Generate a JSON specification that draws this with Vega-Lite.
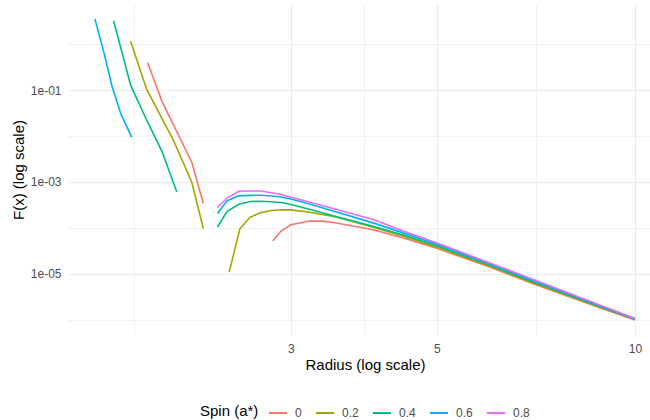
{
  "$schema": "https://vega.github.io/schema/vega-lite/v6.json",
  "width": 582,
  "height": 331,
  "autosize": {"type": "none"},
  "padding": {"left": 68, "top": 4, "right": 0, "bottom": 85},
  "background": "white",
  "config": {"view": {"stroke": null}, "font": "Liberation Sans"},
  "data": {"values": [
    {"spin": "0", "seg": "a", "r": 1.817, "F": 0.395},
    {"spin": "0", "seg": "a", "r": 1.912, "F": 0.0556},
    {"spin": "0", "seg": "a", "r": 2.12, "F": 0.00272},
    {"spin": "0", "seg": "a", "r": 2.208, "F": 0.000337},
    {"spin": "0", "seg": "b", "r": 2.815, "F": 5.15e-5},
    {"spin": "0", "seg": "b", "r": 2.9, "F": 8.59e-5},
    {"spin": "0", "seg": "b", "r": 3.0, "F": 1.16e-4},
    {"spin": "0", "seg": "b", "r": 3.2, "F": 1.41e-4},
    {"spin": "0", "seg": "b", "r": 3.35, "F": 1.40e-4},
    {"spin": "0", "seg": "b", "r": 3.5, "F": 1.29e-4},
    {"spin": "0", "seg": "b", "r": 4.0, "F": 9.04e-5},
    {"spin": "0", "seg": "b", "r": 4.5, "F": 5.69e-5},
    {"spin": "0", "seg": "b", "r": 5, "F": 3.57e-5},
    {"spin": "0", "seg": "b", "r": 6, "F": 1.41e-5},
    {"spin": "0", "seg": "b", "r": 7, "F": 6.00e-6},
    {"spin": "0", "seg": "b", "r": 8, "F": 3.04e-6},
    {"spin": "0", "seg": "b", "r": 9, "F": 1.66e-6},
    {"spin": "0", "seg": "b", "r": 10, "F": 9.82e-7},

    {"spin": "0.2", "seg": "a", "r": 1.712, "F": 1.156},
    {"spin": "0.2", "seg": "a", "r": 1.811, "F": 0.1035},
    {"spin": "0.2", "seg": "a", "r": 1.988, "F": 0.00811},
    {"spin": "0.2", "seg": "a", "r": 2.12, "F": 0.000998},
    {"spin": "0.2", "seg": "a", "r": 2.208, "F": 9.6e-5},
    {"spin": "0.2", "seg": "b", "r": 2.417, "F": 1.08e-5},
    {"spin": "0.2", "seg": "b", "r": 2.51, "F": 9.6e-5},
    {"spin": "0.2", "seg": "b", "r": 2.6, "F": 1.69e-4},
    {"spin": "0.2", "seg": "b", "r": 2.7, "F": 2.14e-4},
    {"spin": "0.2", "seg": "b", "r": 2.8, "F": 2.38e-4},
    {"spin": "0.2", "seg": "b", "r": 2.9, "F": 2.48e-4},
    {"spin": "0.2", "seg": "b", "r": 3.0, "F": 2.46e-4},
    {"spin": "0.2", "seg": "b", "r": 3.2, "F": 2.18e-4},
    {"spin": "0.2", "seg": "b", "r": 3.5, "F": 1.75e-4},
    {"spin": "0.2", "seg": "b", "r": 4.0, "F": 1.03e-4},
    {"spin": "0.2", "seg": "b", "r": 4.5, "F": 6.20e-5},
    {"spin": "0.2", "seg": "b", "r": 5, "F": 3.75e-5},
    {"spin": "0.2", "seg": "b", "r": 6, "F": 1.48e-5},
    {"spin": "0.2", "seg": "b", "r": 7, "F": 6.31e-6},
    {"spin": "0.2", "seg": "b", "r": 8, "F": 3.20e-6},
    {"spin": "0.2", "seg": "b", "r": 9, "F": 1.71e-6},
    {"spin": "0.2", "seg": "b", "r": 10, "F": 1.01e-6},

    {"spin": "0.4", "seg": "a", "r": 1.613, "F": 3.25},
    {"spin": "0.4", "seg": "a", "r": 1.712, "F": 0.1285},
    {"spin": "0.4", "seg": "a", "r": 1.811, "F": 0.0221},
    {"spin": "0.4", "seg": "a", "r": 1.912, "F": 0.00451},
    {"spin": "0.4", "seg": "a", "r": 2.012, "F": 0.000604},
    {"spin": "0.4", "seg": "b", "r": 2.32, "F": 1.04e-4},
    {"spin": "0.4", "seg": "b", "r": 2.4, "F": 2.29e-4},
    {"spin": "0.4", "seg": "b", "r": 2.5, "F": 3.26e-4},
    {"spin": "0.4", "seg": "b", "r": 2.6, "F": 3.75e-4},
    {"spin": "0.4", "seg": "b", "r": 2.7, "F": 3.79e-4},
    {"spin": "0.4", "seg": "b", "r": 2.8, "F": 3.69e-4},
    {"spin": "0.4", "seg": "b", "r": 2.9, "F": 3.55e-4},
    {"spin": "0.4", "seg": "b", "r": 3.0, "F": 3.21e-4},
    {"spin": "0.4", "seg": "b", "r": 3.2, "F": 2.53e-4},
    {"spin": "0.4", "seg": "b", "r": 3.5, "F": 1.78e-4},
    {"spin": "0.4", "seg": "b", "r": 4.0, "F": 1.08e-4},
    {"spin": "0.4", "seg": "b", "r": 4.5, "F": 6.59e-5},
    {"spin": "0.4", "seg": "b", "r": 5, "F": 4.05e-5},
    {"spin": "0.4", "seg": "b", "r": 6, "F": 1.56e-5},
    {"spin": "0.4", "seg": "b", "r": 7, "F": 6.70e-6},
    {"spin": "0.4", "seg": "b", "r": 8, "F": 3.30e-6},
    {"spin": "0.4", "seg": "b", "r": 9, "F": 1.77e-6},
    {"spin": "0.4", "seg": "b", "r": 10, "F": 1.03e-6},

    {"spin": "0.6", "seg": "a", "r": 1.511, "F": 3.54},
    {"spin": "0.6", "seg": "a", "r": 1.56, "F": 0.641},
    {"spin": "0.6", "seg": "a", "r": 1.604, "F": 0.122},
    {"spin": "0.6", "seg": "a", "r": 1.655, "F": 0.0299},
    {"spin": "0.6", "seg": "a", "r": 1.718, "F": 0.00942},
    {"spin": "0.6", "seg": "b", "r": 2.32, "F": 2.04e-4},
    {"spin": "0.6", "seg": "b", "r": 2.4, "F": 3.88e-4},
    {"spin": "0.6", "seg": "b", "r": 2.5, "F": 4.97e-4},
    {"spin": "0.6", "seg": "b", "r": 2.6, "F": 5.09e-4},
    {"spin": "0.6", "seg": "b", "r": 2.7, "F": 5.12e-4},
    {"spin": "0.6", "seg": "b", "r": 2.8, "F": 4.94e-4},
    {"spin": "0.6", "seg": "b", "r": 2.9, "F": 4.70e-4},
    {"spin": "0.6", "seg": "b", "r": 3.0, "F": 4.23e-4},
    {"spin": "0.6", "seg": "b", "r": 3.2, "F": 3.29e-4},
    {"spin": "0.6", "seg": "b", "r": 3.5, "F": 2.27e-4},
    {"spin": "0.6", "seg": "b", "r": 4.0, "F": 1.28e-4},
    {"spin": "0.6", "seg": "b", "r": 4.5, "F": 7.28e-5},
    {"spin": "0.6", "seg": "b", "r": 5, "F": 4.36e-5},
    {"spin": "0.6", "seg": "b", "r": 6, "F": 1.66e-5},
    {"spin": "0.6", "seg": "b", "r": 7, "F": 7.08e-6},
    {"spin": "0.6", "seg": "b", "r": 8, "F": 3.44e-6},
    {"spin": "0.6", "seg": "b", "r": 9, "F": 1.82e-6},
    {"spin": "0.6", "seg": "b", "r": 10, "F": 1.04e-6},

    {"spin": "0.8", "seg": "b", "r": 2.32, "F": 2.76e-4},
    {"spin": "0.8", "seg": "b", "r": 2.4, "F": 4.51e-4},
    {"spin": "0.8", "seg": "b", "r": 2.5, "F": 6.25e-4},
    {"spin": "0.8", "seg": "b", "r": 2.6, "F": 6.35e-4},
    {"spin": "0.8", "seg": "b", "r": 2.7, "F": 6.35e-4},
    {"spin": "0.8", "seg": "b", "r": 2.8, "F": 5.80e-4},
    {"spin": "0.8", "seg": "b", "r": 2.9, "F": 5.32e-4},
    {"spin": "0.8", "seg": "b", "r": 3.0, "F": 4.62e-4},
    {"spin": "0.8", "seg": "b", "r": 3.2, "F": 3.64e-4},
    {"spin": "0.8", "seg": "b", "r": 3.5, "F": 2.57e-4},
    {"spin": "0.8", "seg": "b", "r": 4.0, "F": 1.51e-4},
    {"spin": "0.8", "seg": "b", "r": 4.5, "F": 7.97e-5},
    {"spin": "0.8", "seg": "b", "r": 5, "F": 4.66e-5},
    {"spin": "0.8", "seg": "b", "r": 6, "F": 1.74e-5},
    {"spin": "0.8", "seg": "b", "r": 7, "F": 7.48e-6},
    {"spin": "0.8", "seg": "b", "r": 8, "F": 3.61e-6},
    {"spin": "0.8", "seg": "b", "r": 9, "F": 1.89e-6},
    {"spin": "0.8", "seg": "b", "r": 10, "F": 1.06e-6}
  ]},
  "layer": [
    {
      "mark": {"type": "point", "opacity": 0},
      "encoding": {
        "x": {"field": "r", "type": "quantitative",
          "scale": {"type": "log", "domain": [1.375, 10.54], "nice": false, "zero": false},
          "axis": {"orient": "top", "values": [1.732, 3.873, 7.071], "labels": false, "ticks": false, "domain": false, "grid": true, "gridColor": "#EEEEEE", "gridWidth": 0.8, "title": null}},
        "y": {"field": "F", "type": "quantitative",
          "scale": {"type": "log", "domain": [4.61e-7, 7.53], "nice": false, "zero": false},
          "axis": {"orient": "right", "values": [1, 0.01, 0.0001, 0.000001], "labels": false, "ticks": false, "domain": false, "grid": true, "gridColor": "#EEEEEE", "gridWidth": 0.8, "title": null}}
      }
    },
    {
      "mark": {"type": "line", "strokeWidth": 1.6, "clip": true},
      "encoding": {
        "x": {"field": "r", "type": "quantitative",
          "scale": {"type": "log", "domain": [1.375, 10.54], "nice": false, "zero": false},
          "axis": {"orient": "bottom", "values": [3, 5, 10], "format": "~g", "ticks": false, "domain": false, "grid": true, "gridColor": "#EBEBEB", "gridWidth": 1.1,
            "labelFontSize": 12, "labelColor": "#4D4D4D", "labelPadding": 8, "labelFont": "Liberation Sans",
            "title": "Radius (log scale)", "titleFontSize": 15, "titleFontWeight": "normal", "titleColor": "#000000", "titlePadding": 3, "titleX": 297, "titleFont": "Liberation Sans"}},
        "y": {"field": "F", "type": "quantitative",
          "scale": {"type": "log", "domain": [4.61e-7, 7.53], "nice": false, "zero": false},
          "axis": {"orient": "left", "values": [0.1, 0.001, 0.00001],
            "labelExpr": "datum.value > 0.01 ? '1e-01' : (datum.value > 0.0001 ? '1e-03' : '1e-05')",
            "ticks": false, "domain": false, "grid": true, "gridColor": "#EBEBEB", "gridWidth": 1.1,
            "labelFontSize": 12, "labelColor": "#4D4D4D", "labelPadding": 7, "labelFont": "Liberation Sans",
            "title": "F(x) (log scale)", "titleFontSize": 15, "titleFontWeight": "normal", "titleColor": "#000000", "titlePadding": 4, "titleFont": "Liberation Sans"}},
        "color": {"field": "spin", "type": "nominal",
          "scale": {"domain": ["0", "0.2", "0.4", "0.6", "0.8"], "range": ["#F8766D", "#A3A500", "#00BF7D", "#00B0F6", "#E76BF3"]},
          "legend": {"orient": "none", "legendX": 132, "legendY": 399, "direction": "horizontal", "titleOrient": "left",
            "title": "Spin (a*)", "symbolType": "stroke", "symbolSize": 324, "symbolStrokeWidth": 2,
            "labelFontSize": 12, "labelColor": "#4D4D4D", "labelFont": "Liberation Sans", "labelOffset": 7,
            "titleFontSize": 15, "titleFontWeight": "normal", "titleColor": "#000000", "titleFont": "Liberation Sans",
            "columnPadding": 10, "titlePadding": 9}},
        "detail": {"field": "seg", "type": "nominal"}
      }
    }
  ],
  "resolve": {"axis": {"x": "independent", "y": "independent"}}
}
